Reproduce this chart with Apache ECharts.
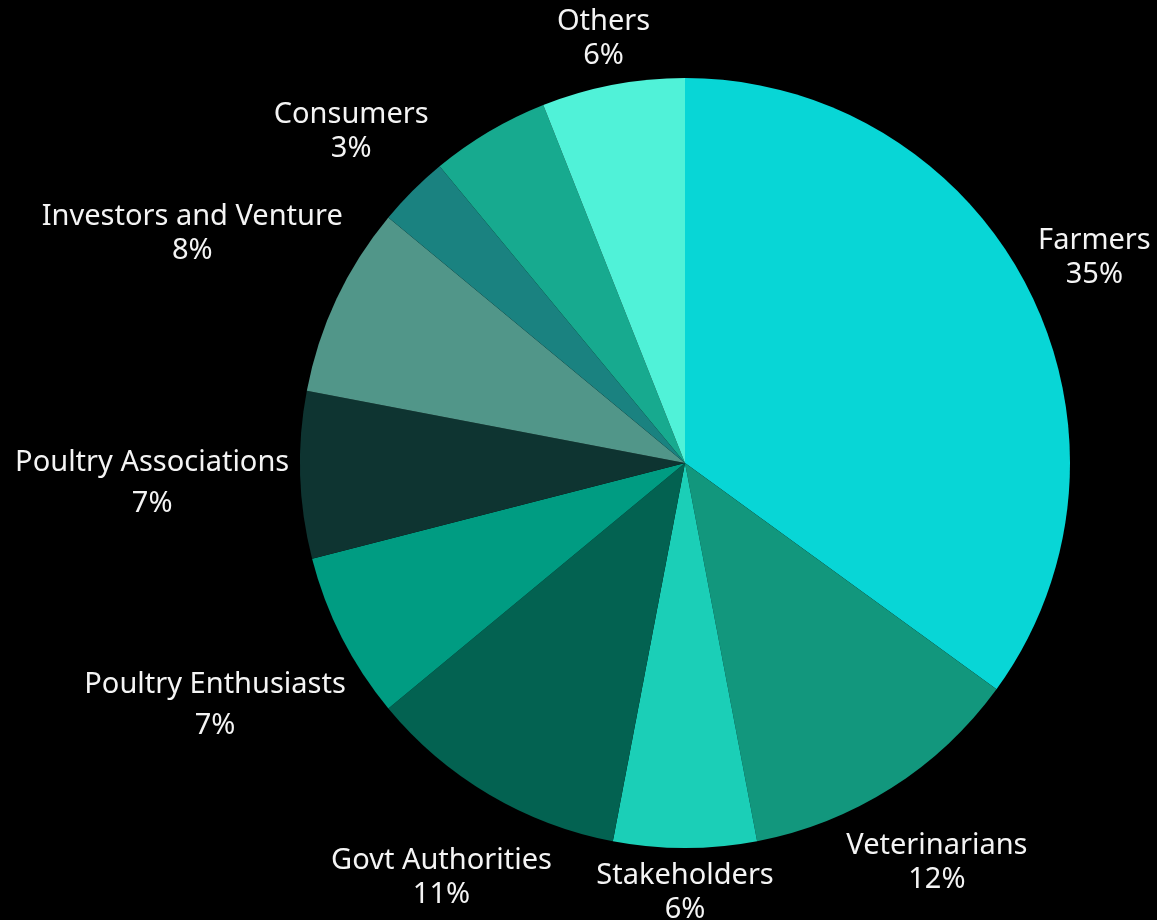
<!DOCTYPE html>
<html>
<head>
<meta charset="utf-8">
<script src="https://cdn.jsdelivr.net/npm/echarts@6/dist/echarts.min.js"></script>
<style>
  html, body { margin: 0; padding: 0; background: #000; }
  #chart { width: 1157px; height: 920px; }
</style>
</head>
<body>
<div id="chart"></div>
<script>
const categories = ['Farmers', 'Veterinarians', 'Stakeholders', 'Govt Authorities', 'Poultry Enthusiasts',
  'Poultry Associations', 'Investors and Venture', 'Consumers', 'Unlabeled', 'Others'];
const shares = [35, 12, 6, 11, 7, 7, 8, 3, 5, 6];
const sliceColors = ['#08d6d6', '#12977d', '#1bcfb7', '#036251', '#009c82',
  '#0e3431', '#519689', '#1a8280', '#17aa8f', '#50f2d8'];
const hiddenLabels = ['Unlabeled'];

const CX = 685, CY = 463, R = 385, GAP = 10, TEXT_SHIFT = 3;
const total = shares.reduce((a, b) => a + b, 0);
const starts = [];
shares.reduce((acc, v, i) => { starts[i] = acc; return acc + v; }, 0);

const chart = echarts.init(document.getElementById('chart'));
const txt = { color: '#f4f4f4', fontFamily: 'Noto Sans', fontSize: 29, align: 'center' };
chart.setOption({
  backgroundColor: '#000',
  animation: false,
  series: [{
    type: 'pie',
    center: [CX, CY],
    radius: R,
    startAngle: 90,
    clockwise: true,
    avoidLabelOverlap: false,
    data: categories.map((name, i) => ({
      name: name,
      value: shares[i],
      itemStyle: { color: sliceColors[i] },
      label: { show: hiddenLabels.indexOf(name) < 0 }
    })),
    itemStyle: { borderWidth: 0 },
    labelLine: { show: false },
    label: {
      position: 'outside',
      color: '#f4f4f4',
      fontFamily: 'Noto Sans',
      fontSize: 29,
      formatter: function (p) {
        const tall = /[gjpqy]/.test(p.name);
        const a = tall ? 'nt' : 'n';
        const b = tall ? 'pt' : 'p';
        return '{' + a + '|' + p.name + '}\n{' + b + '|' + Math.round(p.percent) + '%}';
      },
      rich: {
        n: Object.assign({ lineHeight: 34 }, txt),
        p: Object.assign({ lineHeight: 34 }, txt),
        nt: Object.assign({ lineHeight: 41 }, txt),
        pt: Object.assign({ lineHeight: 41 }, txt)
      }
    },
    labelLayout: function (params) {
      const i = params.dataIndex;
      const mid = (starts[i] + shares[i] / 2) / total * Math.PI * 2;
      const ux = Math.sin(mid), uy = -Math.cos(mid);
      const w = params.labelRect.width, h = params.labelRect.height;
      const d = R + GAP + (w / 2) * Math.abs(ux) + (h / 2) * Math.abs(uy);
      return { x: CX + d * ux, y: CY + d * uy + TEXT_SHIFT, align: 'center', verticalAlign: 'middle' };
    }
  }]
});
</script>
</body>
</html>
